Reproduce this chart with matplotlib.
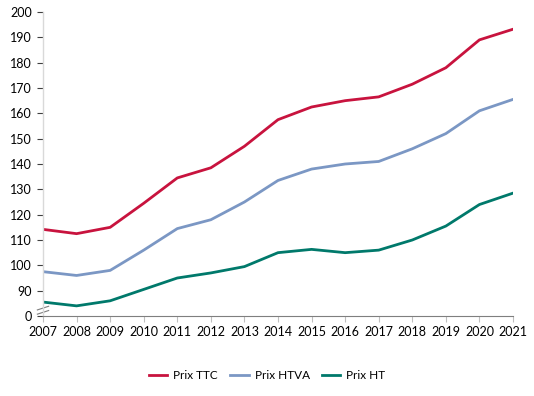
import matplotlib.pyplot as plt

annees = list(range(2007, 2022))
prix_ttc = [114.2, 112.5, 115.0, 124.5, 134.5, 138.5, 147.0, 157.5, 162.5, 165.0, 166.5, 171.5, 178.0, 189.0, 193.2]
prix_htva = [97.5, 96.0, 98.0, 106.0, 114.5, 118.0, 125.0, 133.5, 138.0, 140.0, 141.0, 146.0, 152.0, 161.0, 165.5]
prix_ht = [85.5, 84.0, 86.0, 90.5, 95.0, 97.0, 99.5, 105.0, 106.3, 105.0, 106.0, 110.0, 115.5, 124.0, 128.5]

plt.rcParams['font.family'] = ['Lato', 'DejaVu Sans']

fig = plt.figure(figsize=(5.34, 3.96), dpi=100)
ax = fig.add_axes([43 / 534, 1 - 316 / 396, 470 / 534, 304 / 396])

ax.plot(annees, prix_ttc, color='#C8133E', lw=2.0, label='Prix TTC')
ax.plot(annees, prix_htva, color='#7B97C4', lw=2.0, label='Prix HTVA')
ax.plot(annees, prix_ht, color='#00796B', lw=2.0, label='Prix HT')

ax.set_xlim(2007, 2021)
ax.set_ylim(80, 200)
yt = list(range(80, 201, 10))
ax.set_yticks(yt)
ax.set_yticklabels(['0'] + [str(v) for v in yt[1:]])
ax.set_xticks(annees)
ax.set_xticklabels([str(a) for a in annees])

for s in ['top', 'right']:
    ax.spines[s].set_visible(False)
ax.spines['left'].set_color('#d9d9d9')
ax.spines['bottom'].set_color('#7f7f7f')
ax.spines['left'].set_linewidth(1.0)
ax.spines['bottom'].set_linewidth(0.8)
ax.tick_params(axis='y', length=4, color='#404040', labelsize=9, pad=4)
ax.tick_params(axis='x', length=4, color='#bfbfbf', labelsize=9, pad=3, direction='out')

# marque de coupure de l'axe
for dy in [0.012, 0.026]:
    ax.plot([-0.012, 0.012], [dy - 0.006, dy + 0.006], transform=ax.transAxes,
            color='#7f7f7f', lw=0.8, clip_on=False)

fig.legend(loc='lower center', bbox_to_anchor=(0.5, 0.01), ncol=3, frameon=False,
           fontsize=8.5, handlelength=1.6, columnspacing=1.0, handletextpad=0.5)

fig.savefig('out.png', dpi=100)
